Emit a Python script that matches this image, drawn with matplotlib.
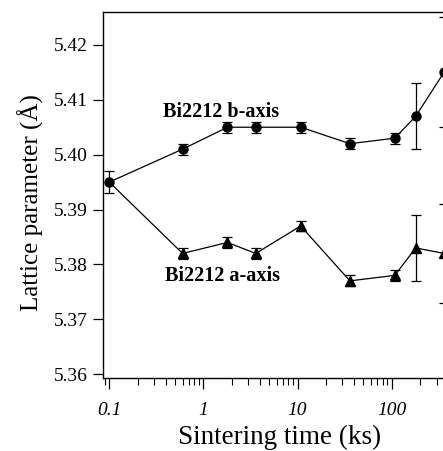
import numpy as np
import matplotlib
matplotlib.use("Agg")
import matplotlib.pyplot as plt
from matplotlib.ticker import LogLocator, FixedLocator, FixedFormatter

#%%
"""
    Datos (leidos de la grafica)
"""

tiempo = [0.1, 0.6, 1.8, 3.6, 10.8, 36, 108, 180, 360]      # ks

eje_b = [5.395, 5.401, 5.405, 5.405, 5.405, 5.402, 5.403, 5.407, 5.415]
err_b = [0.002, 0.001, 0.001, 0.001, 0.001, 0.001, 0.001, 0.006, 0.010]

eje_a = [5.395, 5.382, 5.384, 5.382, 5.387, 5.377, 5.378, 5.383, 5.382]
err_a = [0.002, 0.001, 0.001, 0.001, 0.001, 0.001, 0.001, 0.006, 0.009]

x_ticks = [0.1, 1, 10, 100]
x_labels = ["0.1", "1", "10", "100"]
y_ticks = [5.36, 5.37, 5.38, 5.39, 5.40, 5.41, 5.42]

#%%
"""
    Grafica
"""

plt.rcParams['font.family'] = ['Liberation Serif', 'DejaVu Serif']

fig = plt.figure(figsize=(4.43, 4.51), dpi=100)
# el eje derecho queda fuera de la imagen (igual que en el original)
ax = fig.add_axes([0.2325, 0.1619, 0.7795, 0.8115])

# eje b (circulos)
ax.errorbar(tiempo, eje_b, yerr=err_b, color='black', lw=0.9,
            marker='o', ms=6.5, capsize=3.5, elinewidth=0.9, capthick=0.9,
            clip_on=False, zorder=3)

# eje a (triangulos), el primer punto es el mismo circulo
ax.plot(tiempo, eje_a, color='black', lw=0.9, zorder=2)
ax.errorbar(tiempo[1:], eje_a[1:], yerr=err_a[1:], fmt='^', color='black',
            ms=6.5, capsize=3.5, elinewidth=0.9, capthick=0.9,
            clip_on=False, zorder=3)

# etiquetas de cada serie
ax.text(1.54, 5.4078, "Bi2212 b-axis", fontsize=14.5, fontweight='bold',
        ha='center', va='center')
ax.text(1.61, 5.3778, "Bi2212 a-axis", fontsize=14.5, fontweight='bold',
        ha='center', va='center')

# ejes
ax.set_xscale('log')
ax.set_xlim(0.0857, 400)
ax.set_ylim(5.3593, 5.4260)

ax.xaxis.set_major_locator(FixedLocator(x_ticks))
ax.xaxis.set_major_formatter(FixedFormatter(x_labels))
ax.xaxis.set_minor_locator(LogLocator(base=10, subs=np.arange(2, 10)))
ax.set_yticks(y_ticks)
ax.set_yticklabels(["%.2f" % v for v in y_ticks])

ax.tick_params(axis='x', which='major', direction='out', length=8, width=0.9,
               pad=9, labelsize=14)
ax.tick_params(axis='x', which='minor', direction='out', length=5, width=0.8)
ax.tick_params(axis='y', which='major', direction='out', length=7, width=0.9,
               pad=4, labelsize=14)
for lbl in ax.get_xticklabels():
    lbl.set_fontstyle('italic')

for s in ax.spines.values():
    s.set_linewidth(1.0)
ax.spines['right'].set_visible(False)

ax.set_xlabel("Sintering time (ks)", fontsize=19.5)
ax.set_ylabel("Lattice parameter (Å)", fontsize=18)
ax.xaxis.set_label_coords(0.5126, -0.128)
ax.yaxis.set_label_coords(-0.171, 0.48)

fig.savefig("out.png", dpi=100)
